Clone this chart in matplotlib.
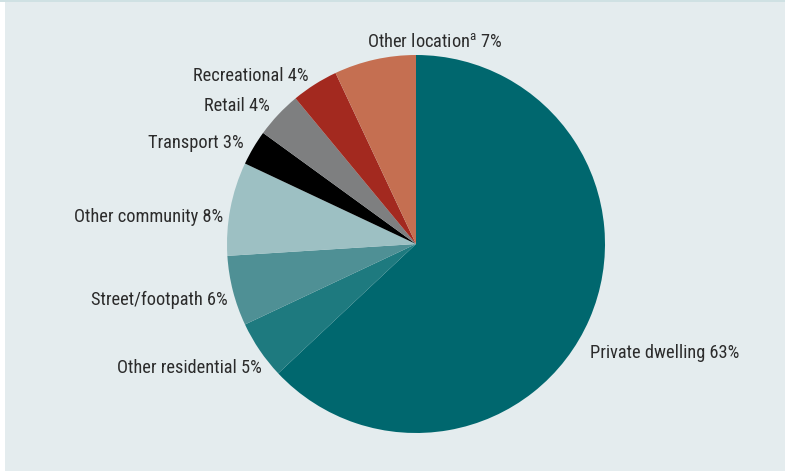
import matplotlib
matplotlib.use("Agg")
import matplotlib.pyplot as plt
from matplotlib.patches import Rectangle
from matplotlib import font_manager

# Location shares (%), drawn clockwise from 12 o'clock
categories = ["Private dwelling", "Other residential", "Street/footpath",
              "Other community", "Transport", "Retail", "Recreational",
              "Other location"]
shares = [63, 5, 6, 8, 3, 4, 4, 7]
colors = ["#00676e", "#1e7a7f", "#4f9095", "#9dc0c3", "#000000",
          "#7e7f80", "#a3291f", "#c56f51"]
superscripts = {"Other location": "a"}

names = {f.name for f in font_manager.fontManager.ttflist}
fam = "Liberation Sans Narrow" if "Liberation Sans Narrow" in names else "Roboto Condensed" if "Roboto Condensed" in names else "Liberation Sans"
plt.rcParams["font.family"] = [fam, "DejaVu Sans"]
plt.rcParams["mathtext.fontset"] = "custom"
plt.rcParams["mathtext.rm"] = fam

W, H = 785, 471
bg = "#e4ecee"
fig = plt.figure(figsize=(W / 100, H / 100), dpi=100, facecolor=bg)

# frame details
fig.add_artist(Rectangle((0, 0), 5 / W, 1, transform=fig.transFigure,
                         facecolor="white", edgecolor="none"))
fig.add_artist(Rectangle((0, 1 - 2 / H), 1, 2 / H, transform=fig.transFigure,
                         facecolor="#cfe1e3", edgecolor="none"))

cx, cy, r = 416, 244, 189
ax = fig.add_axes([(cx - r) / W, (H - cy - r) / H, 2 * r / W, 2 * r / H])
ax.set_facecolor("none")
ax.pie(shares, colors=colors, startangle=90, counterclock=False, radius=1,
       wedgeprops=dict(linewidth=0))
ax.set_xlim(-1, 1)
ax.set_ylim(-1, 1)
ax.set_aspect("equal")
ax.axis("off")

# label anchor positions (in pie radii) and alignment
label_pos = {
    "Private dwelling": (0.92, -0.575, "left"),
    "Other residential": (-0.815, -0.655, "right"),
    "Street/footpath": (-0.995, -0.295, "right"),
    "Other community": (-1.02, 0.145, "right"),
    "Transport": (-0.91, 0.535, "right"),
    "Retail": (-0.775, 0.73, "right"),
    "Recreational": (-0.57, 0.89, "right"),
    "Other location": (0.10, 1.07, "center"),
}
for name, val in zip(categories, shares):
    x, y, ha = label_pos[name]
    sup = superscripts.get(name)
    txt = f"{name}$^{{\\mathrm{{{sup}}}}}$ {val}%" if sup else f"{name} {val}%"
    ax.text(x, y, txt, ha=ha, va="center", fontsize=13.2, color="#2b2b2b",
            clip_on=False)

fig.savefig("out.png", dpi=100, facecolor=bg)
